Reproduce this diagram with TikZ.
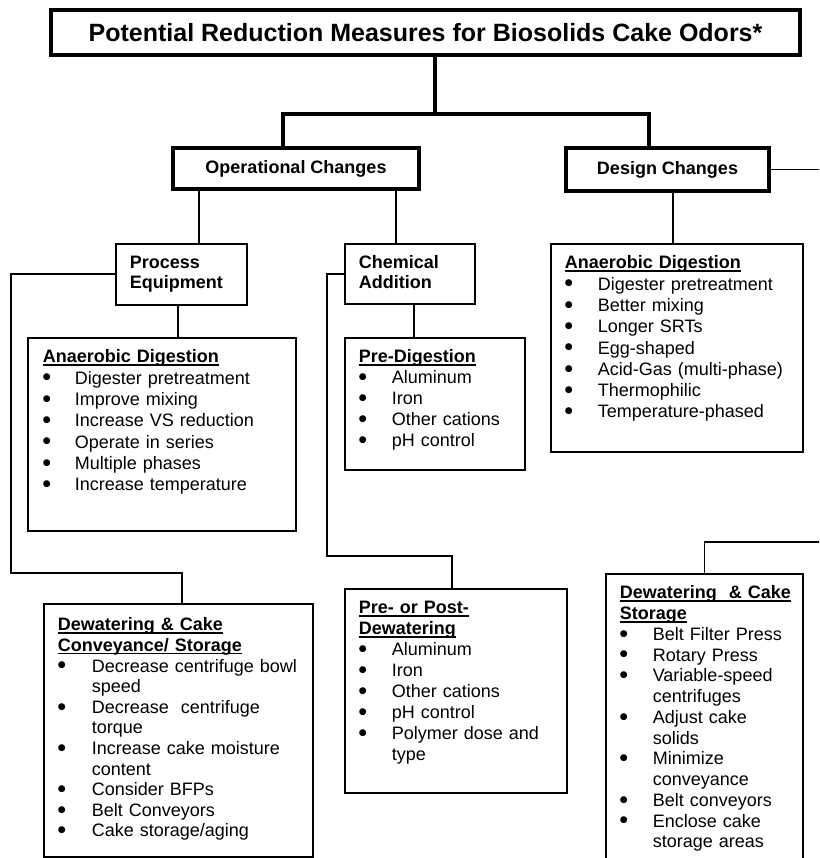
\documentclass[tikz,border=0pt]{standalone}
\usepackage{fontspec}
\setmainfont{Liberation Sans}
\newfontfamily\dotfont{DejaVu Sans}
\newcommand{\ulhead}[1]{\setbox0\hbox{\bfseries #1}\rlap{\rule[-3pt]{\wd0}{1.5pt}}\box0}
\newcommand{\itemdot}{\raisebox{4.2pt}{\dotfont\fontsize{9}{9}\selectfont ●}}

\begin{document}
\begin{tikzpicture}[x=1pt, y=-1pt]
                \tikzstyle{mainbox} = [draw, line width=3.2pt, font=\bfseries\fontsize{18}{21}\selectfont]
                \tikzstyle{catbox} = [draw, line width=1.6pt, anchor=north west, align=left, inner xsep=14pt, inner ysep=0pt, text height=25pt, font=\bfseries\fontsize{18}{20}\selectfont]
                \tikzstyle{listbox} = [draw, line width=1.6pt, anchor=north west, inner xsep=14pt, inner ysep=0pt, text height=25pt, font=\fontsize{18}{21}\selectfont]
                \tikzstyle{bigline} = [line width=3.2pt]
                \tikzstyle{thinline} = [line width=1.6pt]

                \useasboundingbox (0,0) rectangle (819,858);
                \clip (0,0) rectangle (819,858);

                % Title and the two kinds of change (thick border)
                \node[mainbox, minimum width=749pt, minimum height=45pt, font=\bfseries\fontsize{25}{30}\selectfont] (title) at (425.5,32.5) {Potential Reduction Measures for Biosolids Cake Odors*};
                \node[mainbox, minimum width=246pt, minimum height=41pt] (ops) at (296,168.5) {Operational Changes};
                \node[mainbox, minimum width=203pt, minimum height=43pt] (des) at (667.5,169.5) {Design Changes};

                % Operational branches
                \node[catbox, text width=103pt, text depth=36pt] (proc) at (115,243) {Process\\Equipment};
                \node[catbox, text width=102pt, text depth=35pt] (chem) at (344,243) {Chemical\\Addition};

                % Lists under process equipment
                \node[listbox, inner xsep=15pt, text width=238pt, text depth=168pt, font=\fontsize{18}{21.3}\selectfont] (adL) at (27,337) {%
                    \begin{tabular}[t]{@{}p{32pt}@{}l@{}}
                        \multicolumn{2}{@{}l@{}}{\ulhead{Anaerobic Digestion}}\\
                        \itemdot & Digester pretreatment\\
                        \itemdot & Improve mixing\\
                        \itemdot & Increase VS reduction\\
                        \itemdot & Operate in series\\
                        \itemdot & Multiple phases\\
                        \itemdot & Increase temperature\\
                    \end{tabular}};
                \node[listbox, text width=241pt, text depth=226pt, text height=27pt, font=\fontsize{18}{20.6}\selectfont] (dewL) at (43,603) {%
                    \begin{tabular}[t]{@{}p{34pt}@{}l@{}}
                        \multicolumn{2}{@{}l@{}}{\ulhead{Dewatering \& Cake}}\\
                        \multicolumn{2}{@{}l@{}}{\ulhead{Conveyance/ Storage}}\\
                        \itemdot & Decrease centrifuge bowl\\
                                 & speed\\
                        \itemdot & Decrease\ \ centrifuge\\
                                 & torque\\
                        \itemdot & Increase cake moisture\\
                                 & content\\
                        \itemdot & Consider BFPs\\
                        \itemdot & Belt Conveyors\\
                        \itemdot & Cake storage/aging\\
                    \end{tabular}};

                % Lists under chemical addition
                \node[listbox, text width=152pt, text depth=107pt] (preD) at (344,337) {%
                    \begin{tabular}[t]{@{}p{33pt}@{}l@{}}
                        \multicolumn{2}{@{}l@{}}{\ulhead{Pre-Digestion}}\\
                        \itemdot & Aluminum\\
                        \itemdot & Iron\\
                        \itemdot & Other cations\\
                        \itemdot & pH control\\
                    \end{tabular}};
                \node[listbox, text width=194pt, text depth=179pt] (pp) at (344,588) {%
                    \begin{tabular}[t]{@{}p{33pt}@{}l@{}}
                        \multicolumn{2}{@{}l@{}}{\ulhead{Pre- or Post-}}\\
                        \multicolumn{2}{@{}l@{}}{\ulhead{Dewatering}}\\
                        \itemdot & Aluminum\\
                        \itemdot & Iron\\
                        \itemdot & Other cations\\
                        \itemdot & pH control\\
                        \itemdot & Polymer dose and\\
                                 & type\\
                    \end{tabular}};

                % Lists under design changes
                \node[listbox, text width=224pt, text depth=183pt, font=\fontsize{18}{21.3}\selectfont] (adR) at (550,243) {%
                    \begin{tabular}[t]{@{}p{33pt}@{}l@{}}
                        \multicolumn{2}{@{}l@{}}{\ulhead{Anaerobic Digestion}}\\
                        \itemdot & Digester pretreatment\\
                        \itemdot & Better mixing\\
                        \itemdot & Longer SRTs\\
                        \itemdot & Egg-shaped\\
                        \itemdot & Acid-Gas (multi-phase)\\
                        \itemdot & Thermophilic\\
                        \itemdot & Temperature-phased\\
                    \end{tabular}};
                \node[listbox, text width=169pt, text depth=275pt, font=\fontsize{18}{20.75}\selectfont] (dewR) at (605,573) {%
                    \begin{tabular}[t]{@{}p{33pt}@{}l@{}}
                        \multicolumn{2}{@{}l@{}}{\ulhead{Dewatering\ \ \& Cake}}\\
                        \multicolumn{2}{@{}l@{}}{\ulhead{Storage}}\\
                        \itemdot & Belt Filter Press\\
                        \itemdot & Rotary Press\\
                        \itemdot & Variable-speed\\
                                 & centrifuges\\
                        \itemdot & Adjust cake\\
                                 & solids\\
                        \itemdot & Minimize\\
                                 & conveyance\\
                        \itemdot & Belt conveyors\\
                        \itemdot & Enclose cake\\
                                 & storage areas\\
                    \end{tabular}};

                % Free ends that run off the page
                \coordinate (split) at (435,114);
                \coordinate (desout) at (830,169.5);
                \coordinate (rightin) at (830,542);

                % Connectors
                \draw[bigline] (title.south -| split) -- (split);
                \draw[bigline] ([xshift=-13pt]ops.north) |- (split) -| ([xshift=-18.5pt]des.north);
                \draw[thinline] ([xshift=17.5pt]proc.north) -- ([xshift=17.5pt]proc.north |- ops.south);
                \draw[thinline] ([xshift=-14pt]chem.north) -- ([xshift=-14pt]chem.north |- ops.south);
                \draw[thinline] ([xshift=-3.5pt]proc.south) -- ([xshift=-3.5pt]proc.south |- adL.north);
                \draw[thinline] ([xshift=4pt]chem.south) -- ([xshift=4pt]chem.south |- preD.north);
                \draw[thinline] (proc.west) -| (11,573) -| ([xshift=3.5pt]dewL.north);
                \draw[thinline] (chem.west) -| (327,556) -| ([xshift=-4pt]pp.north);
                \draw[thinline] ([xshift=5.5pt]des.south) -- ([xshift=5.5pt]des.south |- adR.north);
                \draw[thinline] (des.east) -- (des.east -| desout);
                \draw[thinline] (rightin) -| (dewR.north);
            \end{tikzpicture}
\end{document}
